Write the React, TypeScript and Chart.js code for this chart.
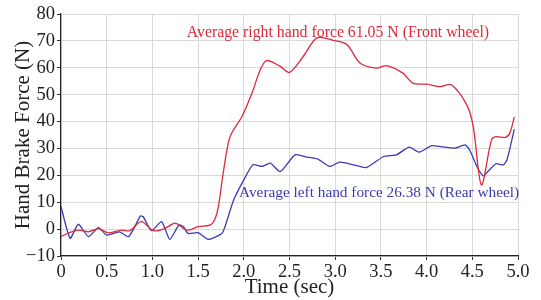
import React, { useEffect, useRef } from "react";
import { Chart, registerables } from "chart.js";

Chart.register(...registerables);

// Right hand (front wheel) force
const rightT = [0, 0.08, 0.19, 0.3, 0.41, 0.52, 0.66, 0.75, 0.88, 1.01, 1.14, 1.25, 1.38, 1.5, 1.63, 1.68, 1.72, 1.78, 1.85, 1.98, 2.09, 2.18, 2.25, 2.4, 2.5, 2.65, 2.8, 2.98, 3.13, 3.27, 3.45, 3.56, 3.74, 3.85, 4.0, 4.15, 4.27, 4.44, 4.51, 4.6, 4.71, 4.76, 4.86, 4.91, 4.96];
const rightV = [-2.8, -1.5, -0.4, -1, 0.2, -1.4, -0.4, -0.6, 2.8, -0.6, 0.3, 2.2, -0.4, 0.9, 1.5, 3.4, 8, 22, 34.4, 41.9, 50.6, 59.3, 62.7, 60.5, 58.3, 64.2, 71.1, 70.2, 68.6, 61.8, 59.9, 60.8, 58, 54.3, 53.9, 53, 53.7, 46.2, 38.2, 16.4, 33.2, 34.4, 34.1, 35.7, 41.7];

// Left hand (rear wheel) force
const leftT = [0, 0.1, 0.19, 0.3, 0.41, 0.5, 0.64, 0.74, 0.87, 0.9, 0.99, 1.1, 1.19, 1.29, 1.34, 1.39, 1.5, 1.61, 1.76, 1.8, 1.89, 2.0, 2.1, 2.2, 2.29, 2.4, 2.56, 2.69, 2.81, 2.94, 3.05, 3.2, 3.34, 3.53, 3.67, 3.81, 3.92, 4.05, 4.16, 4.31, 4.42, 4.47, 4.55, 4.62, 4.67, 4.76, 4.84, 4.88, 4.96];
const leftV = [8.4, -3.4, 1.8, -2.8, 0.5, -2.2, -1, -2.8, 4.9, 4.6, -0.6, 2.8, -3.8, 1.5, 0.9, -1.6, -1.3, -3.8, -1.6, 1.5, 10.9, 18.3, 23.9, 23.3, 24.5, 21.4, 27.6, 26.8, 26, 23.3, 24.9, 23.9, 22.9, 27, 27.6, 30.5, 28.6, 31, 30.7, 30.1, 31.3, 29.5, 23.3, 19.8, 21.4, 24.3, 23.9, 25.8, 37.2];

const rightLabel = "Average right hand force 61.05 N (Front wheel)";
const leftLabel = "Average left hand force 26.38 N (Rear wheel)";
const rightLabelAt = [3.03, 73];
const leftLabelAt = [3.48, 13.5];

const RED = "#dc2a3c";
const BLUE = "#3b3bb3";
const FONT = "'Liberation Serif', 'Times New Roman', serif";

const toPts = (t: number[], v: number[]) => t.map((x, i) => ({ x, y: v[i] }));

export default function App() {
  const ref = useRef<HTMLCanvasElement | null>(null);
  useEffect(() => {
    if (!ref.current) return;
    const labelPlugin = {
      id: "labels",
      afterDatasetsDraw(chart: any) {
        const { ctx, scales } = chart;
        ctx.save();
        ctx.textAlign = "center";
        ctx.textBaseline = "middle";
        ctx.font = `15.8px ${FONT}`;
        ctx.fillStyle = RED;
        ctx.fillText(rightLabel, scales.x.getPixelForValue(rightLabelAt[0]), scales.y.getPixelForValue(rightLabelAt[1]));
        ctx.font = `15.3px ${FONT}`;
        ctx.fillStyle = BLUE;
        ctx.fillText(leftLabel, scales.x.getPixelForValue(leftLabelAt[0]), scales.y.getPixelForValue(leftLabelAt[1]));
        ctx.restore();
      },
    };
    const chart = new Chart(ref.current, {
      type: "scatter",
      data: {
        datasets: [
          { data: toPts(rightT, rightV), showLine: true, borderColor: RED, borderWidth: 1.3, pointRadius: 0, tension: 0.3 },
          { data: toPts(leftT, leftV), showLine: true, borderColor: BLUE, borderWidth: 1.3, pointRadius: 0, tension: 0.2 },
        ],
      },
      options: {
        responsive: false,
        animation: false,
        layout: { padding: { top: 14, right: 23, left: 0, bottom: 0 } },
        plugins: { legend: { display: false }, tooltip: { enabled: false } },
        scales: {
          x: {
            type: "linear",
            min: 0,
            max: 5,
            afterFit: (s: any) => { s.height = 44; },
            ticks: {
              stepSize: 0.5,
              color: "#222",
              font: { family: FONT, size: 18.5 },
              padding: 1,
              maxRotation: 0,
              callback: (v: any) => (v === 0 ? "0" : Number(v).toFixed(1)),
            },
            grid: { color: "#d9d9d9", tickLength: 4, tickColor: "#333" },
            border: { color: "#222", width: 1.2 },
            title: { display: true, text: "Time (sec)", color: "#222", font: { family: FONT, size: 21 }, padding: { top: -4, bottom: 0 } },
          },
          y: {
            min: -10,
            max: 80,
            afterFit: (s: any) => { s.width = 61; },
            ticks: {
              stepSize: 10,
              color: "#222",
              font: { family: FONT, size: 18.5 },
              padding: 2,
              callback: (v: any) => String(v).replace("-", "\u2212"),
            },
            grid: { color: "#d9d9d9", tickLength: 4, tickColor: "#333" },
            border: { color: "#222", width: 1.2 },
            title: { display: true, text: "Hand Brake Force (N)", color: "#222", font: { family: FONT, size: 21 }, padding: { top: 11, bottom: 0 } },
          },
        },
      },
      plugins: [labelPlugin],
    } as any);
    return () => chart.destroy();
  }, []);
  return (
    <div style={{ position: "absolute", left: 0, top: 0, width: 541, height: 300, background: "#fff" }}>
      <canvas ref={ref} width={541} height={300} />
    </div>
  );
}
